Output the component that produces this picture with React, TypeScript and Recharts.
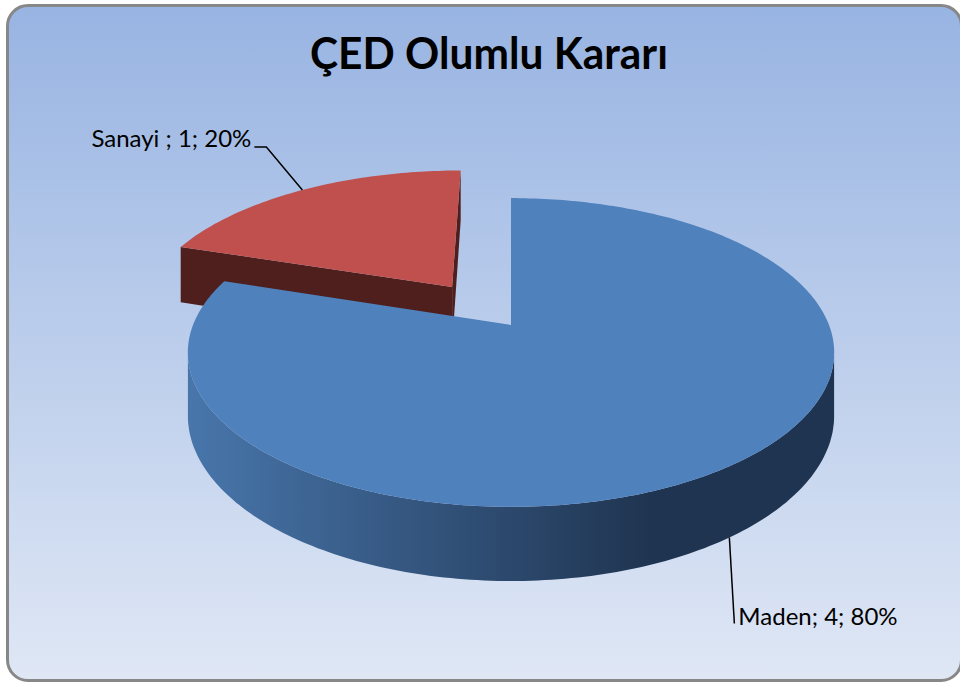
import { Pie, PieChart } from "recharts";

const categories = ["Sanayi ", "Maden"];
const counts = [1, 4];
const chartTitle = "ÇED Olumlu Kararı";

const topColors = ["#c0504d", "#4f81bd"];
const wallLight = ["#4f1f1d", "#4876ab"];
const wallDark = ["#4f1f1d", "#1f3450"];
const explodedName = "Sanayi ";

const data = categories.map((name, i) => ({ name, value: counts[i] }));
const total = counts.reduce((a, b) => a + b, 0);
// last slice ends at 12 o'clock, slices run clockwise
const startAngle = 90 + (360 * counts[0]) / total;

// 3d look: squashed disc, a bit of perspective, and a side wall
const CX = 511;
const CY = 325;
const R = 318;
const TILT = 0.47;
const PERSP = 0.178;
const DEPTH = 61;
const EXPLODE = 0.33;
const CAM_Y = -1 / PERSP;

const rad = (d: number) => (d * Math.PI) / 180;

function proj(cx: number, cy: number, r: number, x: number, y: number, z: number) {
  const w = 1 + PERSP * y;
  return [cx + (r * x) / w, cy - (r * TILT * y) / w + (DEPTH * z) / w];
}

function offsetOf(name: string, midAngle: number) {
  const off = name === explodedName ? EXPLODE : 0;
  return [off * Math.cos(rad(midAngle)), off * Math.sin(rad(midAngle))];
}

const toPath = (pts: number[][]) =>
  "M" + pts.map((p) => p[0].toFixed(1) + "," + p[1].toFixed(1)).join("L") + "Z";

function Slice3D(props: any) {
  const { cx, cy, outerRadius: r, startAngle: a0, endAngle: a1, midAngle, name } = props;
  const i = categories.indexOf(name);
  const [ox, oy] = offsetOf(name, midAngle);
  const rim = (deg: number, z: number) =>
    proj(cx, cy, r, ox + Math.cos(rad(deg)), oy + Math.sin(rad(deg)), z);
  const apex = (z: number) => proj(cx, cy, r, ox, oy, z);

  const n = Math.max(2, Math.ceil(Math.abs(a1 - a0)));
  const angles = Array.from({ length: n + 1 }, (_, k) => a0 + ((a1 - a0) * k) / n);
  const top = toPath([apex(0), ...angles.map((a) => rim(a, 0))]);

  // outer wall, only where it faces the camera
  const faces = (deg: number) => {
    const ux = Math.cos(rad(deg));
    const uy = Math.sin(rad(deg));
    return (0 - ox - ux) * ux + (CAM_Y - oy - uy) * uy > 0;
  };
  const runs: number[][] = [];
  let cur: number[] = [];
  angles.forEach((a) => {
    if (faces(a)) cur.push(a);
    else {
      if (cur.length > 1) runs.push(cur);
      cur = [];
    }
  });
  if (cur.length > 1) runs.push(cur);
  const walls = runs.map((run) =>
    toPath([...run.map((a) => rim(a, 0)), ...run.slice().reverse().map((a) => rim(a, 1))])
  );

  // the two cut faces of the slice
  const dir = Math.sign(a1 - a0);
  const cuts = [
    [a0, a0 - dir * 90],
    [a1, a1 + dir * 90],
  ]
    .filter(([, nd]) => {
      const nx = Math.cos(rad(nd));
      const ny = Math.sin(rad(nd));
      return (0 - ox) * nx + (CAM_Y - oy) * ny >= -1e-6;
    })
    .map(([a]) => toPath([apex(0), rim(a, 0), rim(a, 1), apex(1)]));

  return (
    <g>
      <defs>
        <linearGradient id={`wall-${i}`} x1="0" y1="0" x2="1" y2="0">
          <stop offset="0" stopColor={wallLight[i]} />
          <stop offset="0.72" stopColor={wallDark[i]} />
          <stop offset="1" stopColor={wallDark[i]} />
        </linearGradient>
      </defs>
      {cuts.map((p, k) => (
        <path key={"c" + k} d={p} fill={wallDark[i]} />
      ))}
      {walls.map((p, k) => (
        <path key={"w" + k} d={p} fill={`url(#wall-${i})`} />
      ))}
      <path d={top} fill={topColors[i]} />
    </g>
  );
}

function SliceLabel(props: any) {
  const { cx, cy, outerRadius: r, midAngle, name, value, percent } = props;
  const [ox, oy] = offsetOf(name, midAngle);
  const a = rad(midAngle);
  const text = `${name}; ${value}; ${Math.round(percent * 100)}%`;
  const font = { fontFamily: "Lato, 'Open Sans', sans-serif", fontSize: 24, fill: "#000" };

  if (Math.sin(a) < 0) {
    const [x0, y0] = proj(cx, cy, r, ox + Math.cos(a), oy + Math.sin(a), 1);
    const x1 = x0 + 5;
    const y1 = y0 + 86;
    return (
      <g>
        <polyline points={`${x0},${y0} ${x1},${y1}`} stroke="#000" strokeWidth={1.5} fill="none" />
        <text x={x1 + 4} y={y1 + 1} {...font}>
          {text}
        </text>
      </g>
    );
  }
  const [x0, y0] = proj(cx, cy, r, ox + Math.cos(a), oy + Math.sin(a), 0);
  const ex = x0 - 36;
  const ey = y0 - 43;
  return (
    <g>
      <polyline
        points={`${x0},${y0} ${ex},${ey} ${ex - 12},${ey}`}
        stroke="#000"
        strokeWidth={1.5}
        fill="none"
      />
      <text x={ex - 15} y={ey} textAnchor="end" {...font}>
        {text}
      </text>
    </g>
  );
}

export default function App() {
  return (
    <div style={{ position: "relative", width: 960, height: 682, overflow: "hidden" }}>
      <style>{`body{margin:0}`}</style>
      <div
        style={{
          position: "absolute",
          left: 6,
          top: 4,
          width: 957,
          height: 678,
          boxSizing: "border-box",
          border: "3px solid #878787",
          borderRadius: 22,
          background: "linear-gradient(180deg, #98b4e2 0%, #dfe7f5 100%)",
        }}
      />
      <div style={{ position: "absolute", left: 0, top: 0 }}>
        <PieChart width={960} height={682} margin={{ top: 0, right: 0, bottom: 0, left: 0 }}>
          <text
            x={489}
            y={69}
            textAnchor="middle"
            fontFamily="Lato, 'Open Sans', sans-serif"
            fontWeight={700}
            fontSize={43}
            textLength={358}
            lengthAdjust="spacingAndGlyphs"
            fill="#000"
          >
            {chartTitle}
          </text>
          <Pie
            data={data}
            dataKey="value"
            nameKey="name"
            cx={CX}
            cy={CY}
            outerRadius={R}
            startAngle={startAngle}
            endAngle={startAngle - 360}
            stroke="none"
            isAnimationActive={false}
            label={SliceLabel}
            labelLine={false}
            shape={Slice3D}
            activeShape={Slice3D}
            inactiveShape={Slice3D}
          />
        </PieChart>
      </div>
    </div>
  );
}
